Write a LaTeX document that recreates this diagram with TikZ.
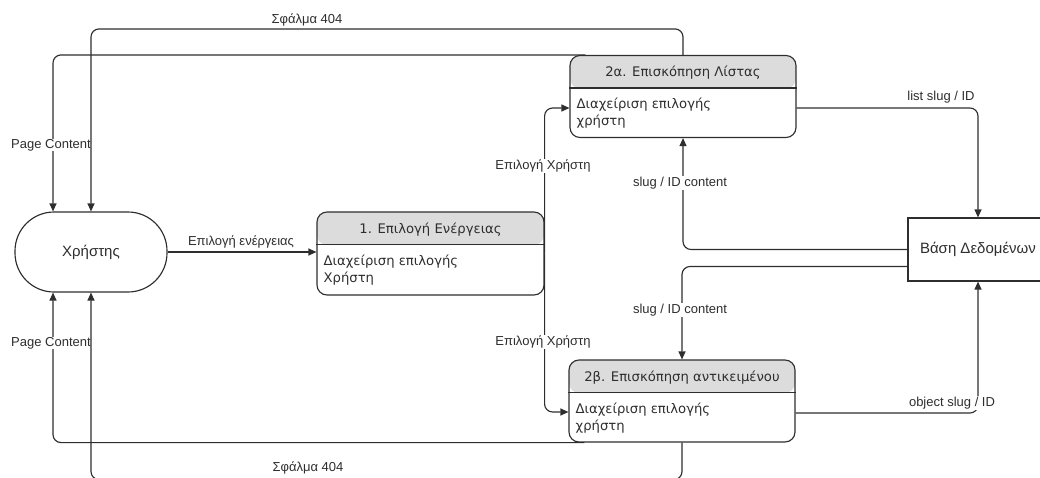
\documentclass[tikz,border=0pt]{standalone}
\usepackage{fontspec}
\setmainfont{Liberation Sans}
\newfontfamily\boxfont{DejaVu Sans}
\usetikzlibrary{arrows.meta}
\definecolor{ink}{HTML}{2E2E2E}
\definecolor{hdr}{HTML}{DCDCDC}
\tikzset{
  flow/.style={draw=ink, line width=1.15pt, rounded corners=8pt,
    -{Triangle[length=8pt,width=7pt]}},
  lbl/.style={font=\fontsize{13}{14}\selectfont, text=ink, inner sep=0.5pt},
  lblbg/.style={lbl, fill=white},
  procbox/.style={draw=ink, line width=1.15pt, rounded corners=10pt,
    minimum width=226pt, minimum height=82pt, inner sep=0pt,
    path picture={\fill[hdr] (path picture bounding box.north west)
      rectangle ([yshift=-33pt]path picture bounding box.north east);}},
  proctitle/.style={font=\boxfont\fontsize{13.2}{15}\selectfont, text=ink, inner sep=0pt},
  procbody/.style={font=\boxfont\fontsize{13.2}{17}\selectfont, text=ink,
    inner sep=0pt, align=left, anchor=north west},
  actor/.style={draw=ink, line width=1.15pt, rounded corners=39pt,
    minimum width=152pt, minimum height=80pt,
    font=\fontsize{15}{17}\selectfont, text=ink},
  store/.style={draw=ink, line width=1.15pt, minimum width=140pt,
    minimum height=63pt, font=\fontsize{15}{17}\selectfont, text=ink}
}
\begin{document}
\begin{tikzpicture}[x=1pt,y=-1pt]
\useasboundingbox (0,0) rectangle (1040,477);

% actor and data store
\node[actor] (user) at (91,252) {Χρήστης};
\node[store] (db) at (978,249.5) {Βάση Δεδομένων};

% process boxes with shaded header
\node[procbox, minimum width=227pt, minimum height=83pt] (p1) at (430.5,253.5) {};
\draw[draw=ink, line width=1.15pt] ([yshift=-33pt]p1.north west) -- ([yshift=-33pt]p1.north east);
\node[proctitle] (p1t) at ([yshift=-18pt]p1.north) {1. Επιλογή Ενέργειας};
\node[procbody] (p1b) at ([xshift=7pt,yshift=-43pt]p1.north west) {Διαχείριση επιλογής\\Χρήστη};

\node[procbox] (p2a) at (683,96.5) {};
\draw[draw=ink, line width=1.15pt] ([yshift=-33pt]p2a.north west) -- ([yshift=-33pt]p2a.north east);
\node[proctitle] (p2at) at ([yshift=-18pt]p2a.north) {2α. Επισκόπηση Λίστας};
\node[procbody] (p2ab) at ([xshift=7pt,yshift=-43pt]p2a.north west) {Διαχείριση επιλογής\\χρήστη};

\node[procbox] (p2b) at (682,401) {};
\draw[draw=ink, line width=1.15pt] ([yshift=-33pt]p2b.north west) -- ([yshift=-33pt]p2b.north east);
\node[proctitle] (p2bt) at ([yshift=-18pt]p2b.north) {2β. Επισκόπηση αντικειμένου};
\node[procbody] (p2bb) at ([xshift=7pt,yshift=-43pt]p2b.north west) {Διαχείριση επιλογής\\χρήστη};

% data flows
\draw[flow] (user.east) -- (p1.west |- user.east);
\draw[flow] (p1.east) |- ([yshift=-11.5pt]p2a.west);
\draw[flow] (p1.east) |- ([yshift=-11pt]p2b.west);
\draw[flow] ([yshift=-11.5pt]p2a.east) -| (db.north);
\draw[flow] ([yshift=-12pt]p2b.east) -| (db.south);
\draw[flow] (db.west) -| (p2a.south);
\draw[flow] ([yshift=-17pt]db.west) -| (p2b.north);
\draw[flow] ([xshift=16pt]p2a.north west) -| ([xshift=-38pt]user.north);
\draw[flow] ([xshift=16pt]p2b.south west) -| ([xshift=-38pt]user.south);

% flow labels
\node[lbl] (actLbl) at (241,242) {Επιλογή ενέργειας};
\node[lblbg] (pcTop) at (51,145) {Page Content};
\node[lblbg] (pcBot) at (51,343) {Page Content};
\node[lblbg] (selA) at (543,166) {Επιλογή Χρήστη};
\node[lblbg] (selB) at (543,342) {Επιλογή Χρήστη};
\node[lblbg] (cntA) at (680,183) {slug / ID content};
\node[lblbg] (cntB) at (680,310) {slug / ID content};
\node[lbl] (lstId) at (941,97) {list slug / ID};
\node[lblbg] (objId) at (952,403) {object slug / ID};

% error returns
\draw[flow] (p2a.north) -- ++(0,-26) -| (user.north);
\draw[flow] (p2b.south) -- ++(0,37) -| (user.south);
\node[lbl] (errTop) at (307,20) {Σφάλμα 404};
\node[lbl] (errBot) at (308,468) {Σφάλμα 404};
\end{tikzpicture}
\end{document}
